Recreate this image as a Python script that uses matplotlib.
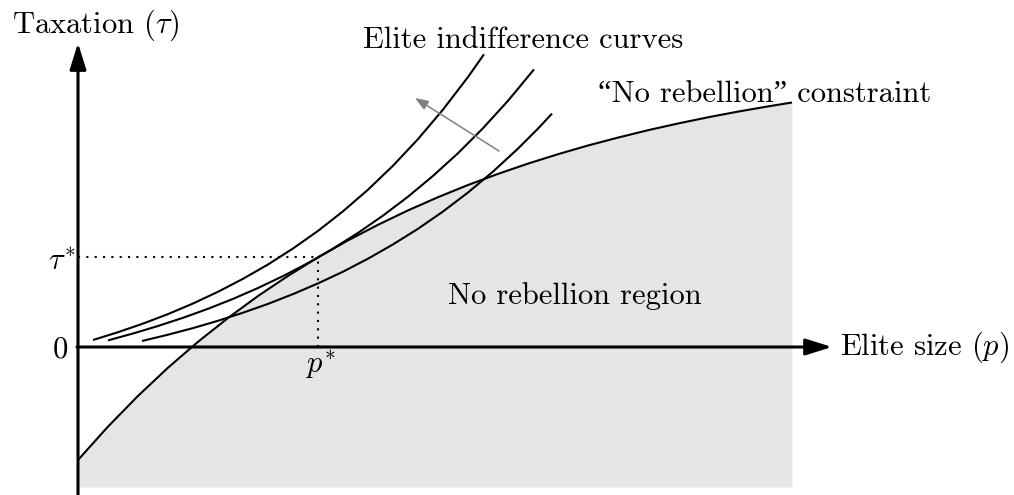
import matplotlib
matplotlib.use("Agg")
from matplotlib import pyplot as plt

plt.rcParams["mathtext.fontset"] = "cm"
plt.rcParams["font.family"] = ["cmr10", "Liberation Serif"]
plt.rcParams["axes.formatter.use_mathtext"] = True

# "No rebellion" constraint (elite size p, taxation tau)
constraint_p = [0.0, 0.3, 0.6, 0.9, 1.2, 1.5, 1.8, 2.1, 2.4, 2.7, 3.0, 3.3, 3.6, 3.9,
                4.2, 4.5, 4.8, 5.1, 5.4, 5.7, 6.0, 6.3, 6.6, 6.9, 7.14]
constraint_tau = [-1.130, -0.796, -0.489, -0.207, 0.052, 0.290, 0.510, 0.711, 0.896, 1.066, 1.222,
                  1.366, 1.498, 1.620, 1.731, 1.834, 1.928, 2.015, 2.094, 2.168, 2.235, 2.297,
                  2.354, 2.406, 2.445]

# elite indifference curves, outer to inner
curve1_p = [0.15, 0.4, 0.65, 0.9, 1.15, 1.4, 1.65, 1.9, 2.15, 2.4, 2.65, 2.9, 3.15, 3.4, 3.65, 3.9, 4.06]
curve1_tau = [0.070, 0.148, 0.234, 0.329, 0.435, 0.552, 0.682, 0.825, 0.985, 1.161, 1.357, 1.573,
              1.813, 2.079, 2.374, 2.700, 2.927]
curve2_p = [0.3, 0.55, 0.8, 1.05, 1.3, 1.55, 1.8, 2.05, 2.25, 2.4, 2.55, 2.8, 3.05, 3.3, 3.55, 3.8,
            4.05, 4.3, 4.56]
curve2_tau = [0.066, 0.135, 0.210, 0.292, 0.382, 0.481, 0.590, 0.709, 0.813, 0.896, 0.984, 1.141,
              1.314, 1.503, 1.711, 1.938, 2.188, 2.462, 2.776]
curve3_p = [0.64, 0.9, 1.15, 1.4, 1.65, 1.9, 2.15, 2.4, 2.65, 2.9, 3.15, 3.4, 3.65, 3.9, 4.15, 4.4,
            4.6, 4.74]
curve3_tau = [0.060, 0.123, 0.189, 0.262, 0.343, 0.431, 0.529, 0.636, 0.753, 0.883, 1.026, 1.182,
              1.355, 1.545, 1.754, 1.984, 2.184, 2.334]

p_star = 2.4
tau_star = 0.896
region_bottom = -1.40

fig = plt.figure(figsize=(10.14, 4.95), dpi=100)
ax = fig.add_axes([0, 0, 1, 1])
ax.set_xlim(-0.78, 9.36)
ax.set_ylim(-1.48, 3.47)
ax.axis("off")

# shaded no rebellion region under the constraint
ax.fill_between(constraint_p, constraint_tau, region_bottom, color="#e5e5e5", lw=0, zorder=0)

# axes with arrow heads
head = "-|>,head_length=16,head_width=5"
ax.annotate("", xy=(7.54, 0), xytext=(-0.01, 0),
            arrowprops=dict(arrowstyle=head, mutation_scale=1, lw=2.2, color="k", shrinkA=0, shrinkB=0))
ax.annotate("", xy=(0, 3.04), xytext=(0, -1.48),
            arrowprops=dict(arrowstyle=head, mutation_scale=1, lw=2.2, color="k", shrinkA=0, shrinkB=0))

# dotted guides to the optimum
ax.plot([0, p_star], [tau_star, tau_star], color="k", lw=1.5, ls=(0, (1, 3)))
ax.plot([p_star, p_star], [0, tau_star], color="k", lw=1.5, ls=(0, (1, 3)))

ax.plot(constraint_p, constraint_tau, color="k", lw=1.5, solid_capstyle="butt", solid_joinstyle="round")
for cp, ct in [(curve1_p, curve1_tau), (curve2_p, curve2_tau), (curve3_p, curve3_tau)]:
    ax.plot(cp, ct, color="k", lw=1.5, solid_capstyle="butt", solid_joinstyle="round")

# grey arrow: direction of higher elite utility
ax.annotate("", xy=(3.37, 2.49), xytext=(4.21, 1.96),
            arrowprops=dict(arrowstyle="-|>,head_length=8,head_width=3", mutation_scale=1,
                            lw=1.1, color="#808080", shrinkA=0, shrinkB=0))

fs = 22
ax.text(-0.66, 3.14, r"Taxation ($\tau$)", fontsize=fs, va="baseline")
ax.text(2.85, 2.99, "Elite indifference curves", fontsize=fs, va="baseline")
ax.text(5.20, 2.45, "\u201cNo rebellion\u201d constraint", fontsize=fs, va="baseline")
ax.text(3.70, 0.43, "No rebellion region", fontsize=fs, va="baseline")
ax.text(7.62, -0.08, r"Elite size ($p$)", fontsize=fs, va="baseline")
ax.text(-0.10, -0.11, "0", fontsize=fs, ha="right", va="baseline")
ax.text(-0.03, 0.78, r"$\tau^{\!*}$", fontsize=fs, ha="right", va="baseline")
ax.text(2.42, -0.25, r"$p^{\!*}$", fontsize=fs, ha="center", va="baseline")

fig.savefig("out.png", dpi=100)
